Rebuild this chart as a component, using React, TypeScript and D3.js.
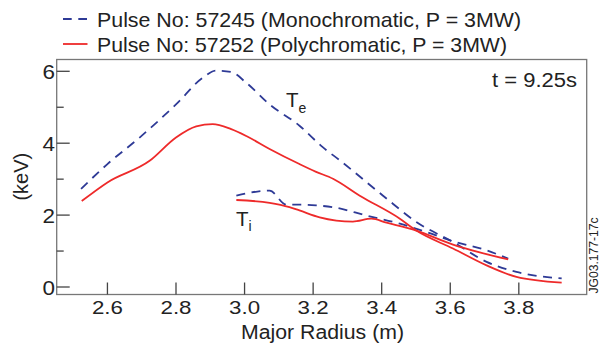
import React from "react";
import * as d3 from "d3";

const W = 604;
const H = 347;
const M = { left: 56.7, right: 586.7, top: 59.5, bottom: 294.5 };

const xTicks = [2.6, 2.8, 3.0, 3.2, 3.4, 3.6, 3.8];
const yMajor = [0, 2, 4, 6];
const yMinor = [1, 3, 5];

const teMonoR = [2.523, 2.6, 2.693, 2.8, 2.878, 2.917, 2.961, 3.005, 3.073, 3.161, 3.228, 3.277, 3.404, 3.501, 3.608, 3.706, 3.793, 3.925];
const teMonoV = [2.73, 3.42, 4.15, 5.08, 5.82, 6.02, 5.98, 5.68, 5.08, 4.48, 3.89, 3.53, 2.54, 1.81, 1.25, 0.7, 0.42, 0.24];

const tePolyR = [2.525, 2.6, 2.723, 2.8, 2.859, 2.907, 2.961, 3.005, 3.073, 3.16, 3.207, 3.258, 3.336, 3.453, 3.501, 3.608, 3.706, 3.793, 3.925];
const tePolyV = [2.39, 2.91, 3.51, 4.16, 4.47, 4.53, 4.39, 4.2, 3.84, 3.42, 3.21, 3.01, 2.54, 1.9, 1.57, 1.07, 0.6, 0.28, 0.12];

const tiMonoR = [2.976, 3.073, 3.122, 3.16, 3.209, 3.258, 3.355, 3.453, 3.53, 3.608, 3.706, 3.769];
const tiMonoV = [2.54, 2.68, 2.29, 2.29, 2.27, 2.22, 1.99, 1.76, 1.53, 1.27, 1.02, 0.79];

const tiPolyR = [2.976, 3.073, 3.131, 3.16, 3.219, 3.316, 3.37, 3.414, 3.501, 3.608, 3.686, 3.769];
const tiPolyV = [2.42, 2.34, 2.22, 2.13, 1.94, 1.82, 1.9, 1.79, 1.57, 1.18, 0.96, 0.77];

const legendLabels = [
  "Pulse No: 57245 (Monochromatic, P = 3MW)",
  "Pulse No: 57252 (Polychromatic, P = 3MW)",
];

const BLUE = "#2e3a96";
const RED = "#ee2a2a";
const FONT = "'Liberation Sans', Arial, Helvetica, sans-serif";
const TXT = "#222";

export default function App() {
  const x = d3.scaleLinear().domain([2.452, 3.998]).range([M.left, M.right]);
  const y = d3.scaleLinear().domain([0, 6]).range([287, 71.3]);
  const line = d3
    .line<[number, number]>()
    .x((d) => x(d[0]))
    .y((d) => y(d[1]))
    .curve(d3.curveMonotoneX);
  const pts = (r: number[], v: number[]) => r.map((d, i) => [d, v[i]] as [number, number]);

  return (
    <svg
      width={W}
      height={H}
      style={{ position: "absolute", left: 0, top: 0, background: "#fff" }}
      fontFamily={FONT}
    >
      {/* legend */}
      <line x1={63} x2={87.5} y1={19} y2={19} stroke={BLUE} strokeWidth={1.8} strokeDasharray="8.7 6.6" />
      <text x={97} y={26.7} fontSize={21} fill={TXT} textLength={424} lengthAdjust="spacingAndGlyphs">{legendLabels[0]}</text>
      <line x1={63} x2={87.5} y1={44} y2={44} stroke={RED} strokeWidth={1.8} />
      <text x={97} y={52.3} fontSize={21} fill={TXT} textLength={410} lengthAdjust="spacingAndGlyphs">{legendLabels[1]}</text>

      {/* frame */}
      <rect x={M.left} y={M.top} width={M.right - M.left} height={M.bottom - M.top} fill="none" stroke="#777" strokeWidth={1.3} />

      {/* x ticks */}
      {xTicks.map((t) => (
        <g key={t}>
          <line x1={x(t)} x2={x(t)} y1={M.bottom} y2={M.bottom - 12} stroke="#444" strokeWidth={1.3} />
          <text x={x(t)} y={314} textAnchor="middle" fontSize={18.5} fill={TXT} textLength={31} lengthAdjust="spacingAndGlyphs">{t.toFixed(1)}</text>
        </g>
      ))}
      {/* y ticks */}
      {yMajor.map((t) => (
        <g key={t}>
          <line x1={M.left} x2={M.left + 13} y1={y(t)} y2={y(t)} stroke="#444" strokeWidth={1.3} />
          <text x={55} y={y(t) + 7.5} textAnchor="end" fontSize={21} fill={TXT} textLength={12.5} lengthAdjust="spacingAndGlyphs">{t}</text>
        </g>
      ))}
      {yMinor.map((t) => (
        <line key={t} x1={M.left} x2={M.left + 7} y1={y(t)} y2={y(t)} stroke="#444" strokeWidth={1.3} />
      ))}

      {/* axis titles */}
      <text x={322.5} y={339.3} textAnchor="middle" fontSize={20} fill={TXT} textLength={163} lengthAdjust="spacingAndGlyphs">Major Radius (m)</text>
      <text transform="translate(28,176.7) rotate(-90)" textAnchor="middle" fontSize={20} fill={TXT}>(keV)</text>
      <text transform="translate(598,255.5) rotate(-90)" textAnchor="middle" fontSize={12} fill={TXT} textLength={76} lengthAdjust="spacingAndGlyphs">JG03.177-17c</text>

      {/* curves */}
      <path d={line(pts(teMonoR, teMonoV)) || ""} fill="none" stroke={BLUE} strokeWidth={1.8} strokeDasharray="9 6.5" />
      <path d={line(pts(tiMonoR, tiMonoV)) || ""} fill="none" stroke={BLUE} strokeWidth={1.8} strokeDasharray="9 6.5" />
      <path d={line(pts(tePolyR, tePolyV)) || ""} fill="none" stroke={RED} strokeWidth={1.8} />
      <path d={line(pts(tiPolyR, tiPolyV)) || ""} fill="none" stroke={RED} strokeWidth={1.8} />

      {/* annotations */}
      <text x={577} y={87.3} textAnchor="end" fontSize={20} fill={TXT} textLength={85} lengthAdjust="spacingAndGlyphs">t = 9.25s</text>
      <text x={286} y={107} fontSize={20.5} fill={TXT}>T<tspan dy={5.5} fontSize={14}>e</tspan></text>
      <text x={236} y={226} fontSize={20.5} fill={TXT}>T<tspan dy={5} fontSize={14}>i</tspan></text>
    </svg>
  );
}
